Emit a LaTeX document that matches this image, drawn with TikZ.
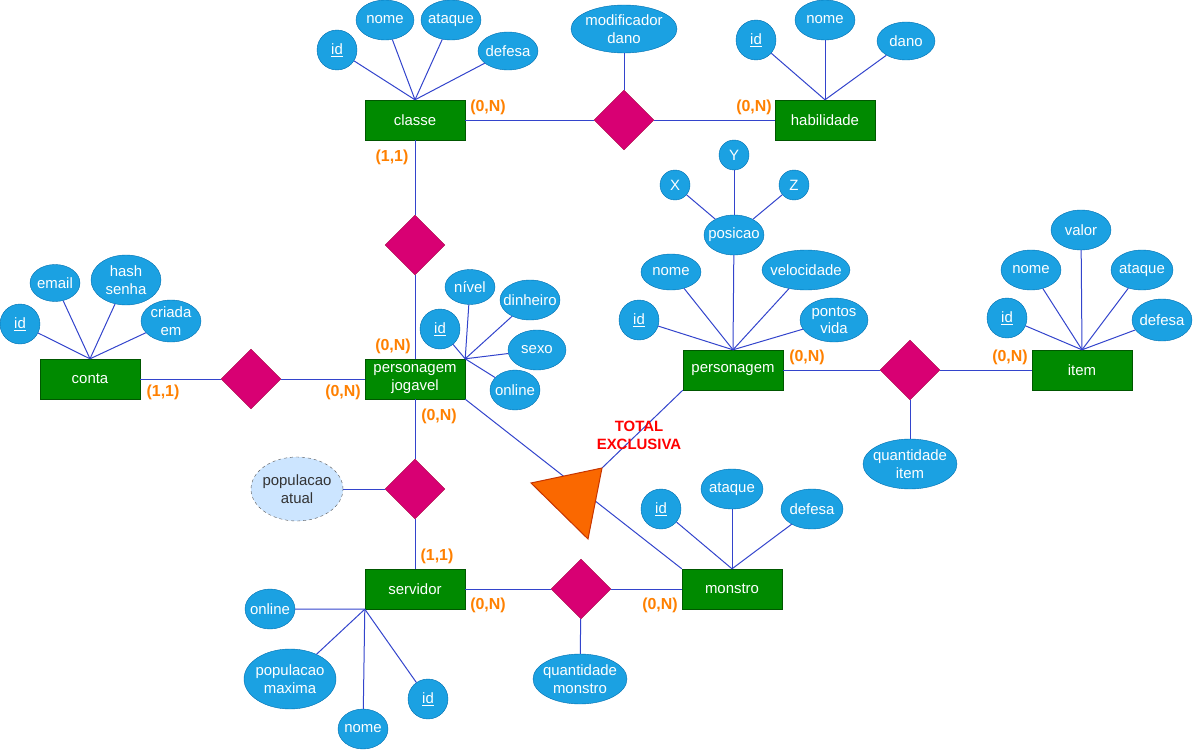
\documentclass[tikz,border=0pt]{standalone}
\usepackage{fontspec}
\setmainfont{Liberation Sans}
\usetikzlibrary{shapes.geometric}
\definecolor{entg}{HTML}{008A00}
\definecolor{entd}{HTML}{005700}
\definecolor{relc}{HTML}{D80073}
\definecolor{reld}{HTML}{A50040}
\definecolor{attrc}{HTML}{1BA1E2}
\definecolor{attrd}{HTML}{006EAF}
\definecolor{cardc}{HTML}{FF8000}
\definecolor{lnc}{HTML}{3344CC}
\definecolor{trif}{HTML}{FA6800}
\definecolor{trid}{HTML}{C73500}
\definecolor{derf}{HTML}{CCE5FF}
\definecolor{derd}{HTML}{555555}
\begin{document}
\begin{tikzpicture}[x=1bp,y=-1bp,
  txt/.style={font=\fontsize{15}{17.5}\selectfont},
  ent/.style={rectangle,fill=entg,draw=entd,text=white,minimum width=100bp,minimum height=40bp,inner sep=0pt,align=center,txt},
  rel/.style={diamond,fill=relc,draw=reld,minimum width=60bp,minimum height=60bp,inner sep=0pt},
  attr/.style={ellipse,fill=attrc,draw=attrd,text=white,inner sep=-8bp,align=center,txt},
  card/.style={text=cardc,font=\fontsize{16}{18}\selectfont\bfseries,inner sep=0pt},
  ln/.style={draw=lnc,line width=1bp}]
\useasboundingbox (0,0) rectangle (1193,751);

% entities
\node[ent] (classe) at (415,120) {classe};
\node[ent] (habil) at (825,120) {habilidade};
\node[ent] (conta) at (90,379) {conta};
\node[ent] (pj) at (415,379) {personagem\\jogavel};
\node[ent] (pers) at (733,370) {personagem};
\node[ent] (item) at (1082,370) {item};
\node[ent] (monstro) at (732,589) {monstro};
\node[ent] (serv) at (415,589) {servidor};

% relationships
\node[rel] (r1) at (624,120) {};
\node[rel] (r2) at (415,245) {};
\node[rel] (r3) at (251,379) {};
\node[rel] (r4) at (415,489) {};
\node[rel] (r5) at (581,589) {};
\node[rel] (r6) at (910,370) {};

% attributes of classe
\node[attr,minimum width=40bp,minimum height=40bp] (cid) at (337,50) {\underline{id}};
\node[attr,minimum width=58bp,minimum height=40bp] (cnome) at (385,20) {nome};
\node[attr,minimum width=60bp,minimum height=40bp] (cataq) at (451,20) {ataque};
\node[attr,minimum width=60bp,minimum height=38bp] (cdef) at (508,51) {defesa};
\node[attr,minimum width=106bp,minimum height=48bp] (moddano) at (624,29) {modificador\\dano};
% habilidade
\node[attr,minimum width=40bp,minimum height=40bp] (hid) at (756,40) {\underline{id}};
\node[attr,minimum width=60bp,minimum height=40bp] (hnome) at (825,20) {nome};
\node[attr,minimum width=58bp,minimum height=38bp] (hdano) at (906,41) {dano};
% conta
\node[attr,minimum width=40bp,minimum height=40bp] (coid) at (20,324) {\underline{id}};
\node[attr,minimum width=50bp,minimum height=37bp] (coemail) at (55,283) {email};
\node[attr,minimum width=70bp,minimum height=50bp] (cohash) at (126,280) {hash\\senha};
\node[attr,minimum width=60bp,minimum height=42bp] (cocriada) at (171,321) {criada\\em};
% personagem jogavel
\node[attr,minimum width=50bp,minimum height=35bp] (pjnivel) at (470,287) {nível};
\node[attr,minimum width=60bp,minimum height=40bp] (pjdin) at (530,300) {dinheiro};
\node[attr,minimum width=40bp,minimum height=40bp] (pjid) at (440,329) {\underline{id}};
\node[attr,minimum width=58bp,minimum height=40bp] (pjsexo) at (537,350) {sexo};
\node[attr,minimum width=50bp,minimum height=40bp] (pjonl) at (515,390) {online};
% personagem
\node[attr,minimum width=30bp,minimum height=30bp] (py) at (734,155) {Y};
\node[attr,minimum width=30bp,minimum height=30bp] (px) at (675,185) {X};
\node[attr,minimum width=30bp,minimum height=30bp] (pz) at (794,185) {Z};
\node[attr,minimum width=60bp,minimum height=40bp] (ppos) at (734,235) {posicao};
\node[attr,minimum width=60bp,minimum height=36bp] (pnome) at (671,272) {nome};
\node[attr,minimum width=88bp,minimum height=40bp] (pvel) at (806,270) {velocidade};
\node[attr,minimum width=40bp,minimum height=40bp] (pid) at (639,320) {\underline{id}};
\node[attr,minimum width=68bp,minimum height=44bp] (ppv) at (834,320) {pontos\\vida};
% item
\node[attr,minimum width=60bp,minimum height=40bp] (ivalor) at (1081,230) {valor};
\node[attr,minimum width=60bp,minimum height=40bp] (inome) at (1031,270) {nome};
\node[attr,minimum width=62bp,minimum height=40bp] (iataq) at (1142,270) {ataque};
\node[attr,minimum width=40bp,minimum height=40bp] (iid) at (1007,318) {\underline{id}};
\node[attr,minimum width=60bp,minimum height=42bp] (idef) at (1162,320) {defesa};
\node[attr,minimum width=94bp,minimum height=50bp] (qitem) at (910,464) {quantidade\\item};
% monstro
\node[attr,minimum width=40bp,minimum height=40bp] (mid) at (661,509) {\underline{id}};
\node[attr,minimum width=62bp,minimum height=40bp] (mataq) at (732,489) {ataque};
\node[attr,minimum width=62bp,minimum height=40bp] (mdef) at (812,509) {defesa};
\node[attr,minimum width=94bp,minimum height=50bp] (qmon) at (580,679) {quantidade\\monstro};
% servidor
\node[attr,minimum width=50bp,minimum height=40bp] (sonl) at (270,609) {online};
\node[attr,minimum width=92bp,minimum height=60bp] (spop) at (290,679) {populacao\\maxima};
\node[attr,minimum width=50bp,minimum height=40bp] (snome) at (363,729) {nome};
\node[attr,minimum width=40bp,minimum height=40bp] (sid) at (428,699) {\underline{id}};
\node[ellipse,fill=derf,draw=derd,dashed,text=black!80,inner sep=-8bp,align=center,txt,minimum width=92bp,minimum height=64bp] (popat) at (297,489) {populacao\\atual};

% ---------- connectors ----------
\draw[ln] (classe.north) -- (cid);
\draw[ln] (classe.north) -- (cnome);
\draw[ln] (classe.north) -- (cataq);
\draw[ln] (classe.north) -- (cdef);
\draw[ln] (moddano) -- (r1);
\draw[ln] (habil.north) -- (hid);
\draw[ln] (habil.north) -- (hnome);
\draw[ln] (habil.north) -- (hdano);
\draw[ln] (conta.north) -- (coid);
\draw[ln] (conta.north) -- (coemail);
\draw[ln] (conta.north) -- (cohash);
\draw[ln] (conta.north) -- (cocriada);
\draw[ln] (pj.north east) -- (pjnivel);
\draw[ln] (pj.north east) -- (pjdin);
\draw[ln] (pj.north east) -- (pjid);
\draw[ln] (pj.north east) -- (pjsexo);
\draw[ln] (pj.north east) -- (pjonl);
\draw[ln] (ppos) -- (py);
\draw[ln] (ppos) -- (px);
\draw[ln] (ppos) -- (pz);
\draw[ln] (pers.north) -- (ppos);
\draw[ln] (pers.north) -- (pnome);
\draw[ln] (pers.north) -- (pvel);
\draw[ln] (pers.north) -- (pid);
\draw[ln] (pers.north) -- (ppv);
\draw[ln] (item.north) -- (ivalor);
\draw[ln] (item.north) -- (inome);
\draw[ln] (item.north) -- (iataq);
\draw[ln] (item.north) -- (iid);
\draw[ln] (item.north) -- (idef);
\draw[ln] (monstro.north) -- (mid);
\draw[ln] (monstro.north) -- (mataq);
\draw[ln] (monstro.north) -- (mdef);
\draw[ln] (serv.south west) -- (sonl);
\draw[ln] (serv.south west) -- (spop);
\draw[ln] (serv.south west) -- (snome);
\draw[ln] (serv.south west) -- (sid);
% relationships
\draw[ln] (classe) -- (r1) -- (habil);
\draw[ln] (classe) -- (r2) -- (pj);
\draw[ln] (conta) -- (r3) -- (pj);
\draw[ln] (pj) -- (r4) -- (serv);
\draw[ln] (popat) -- (r4);
\draw[ln] (serv) -- (r5) -- (monstro);
\draw[ln] (r5) -- (qmon);
\draw[ln] (pers) -- (r6) -- (item);
\draw[ln] (r6) -- (qitem);
% specialization
\coordinate (t1) at (531,483);
\coordinate (t2) at (602,468);
\coordinate (t3) at (588,539);
\draw[ln] (pj.south east) -- (monstro.north west);
\draw[ln] (pers.south west) -- (t2);
\filldraw[fill=trif,draw=trid,line width=1bp,line join=miter] (t1) -- (t2) -- (t3) -- cycle;
\node[text=red,font=\fontsize{15}{18}\selectfont\bfseries,align=center,inner sep=0pt] (totex) at (639,435) {TOTAL\\EXCLUSIVA};

% cardinalities
\node[card] (k1) at (488,107) {(0,N)};
\node[card] (k2) at (754,107) {(0,N)};
\node[card] (k3) at (392,157) {(1,1)};
\node[card] (k4) at (393,346) {(0,N)};
\node[card] (k5) at (163,392) {(1,1)};
\node[card] (k6) at (343,392) {(0,N)};
\node[card] (k7) at (439,416) {(0,N)};
\node[card] (k8) at (437,556) {(1,1)};
\node[card] (k9) at (488,605) {(0,N)};
\node[card] (k10) at (660,605) {(0,N)};
\node[card] (k11) at (807,357) {(0,N)};
\node[card] (k12) at (1010,357) {(0,N)};
\end{tikzpicture}
\end{document}
